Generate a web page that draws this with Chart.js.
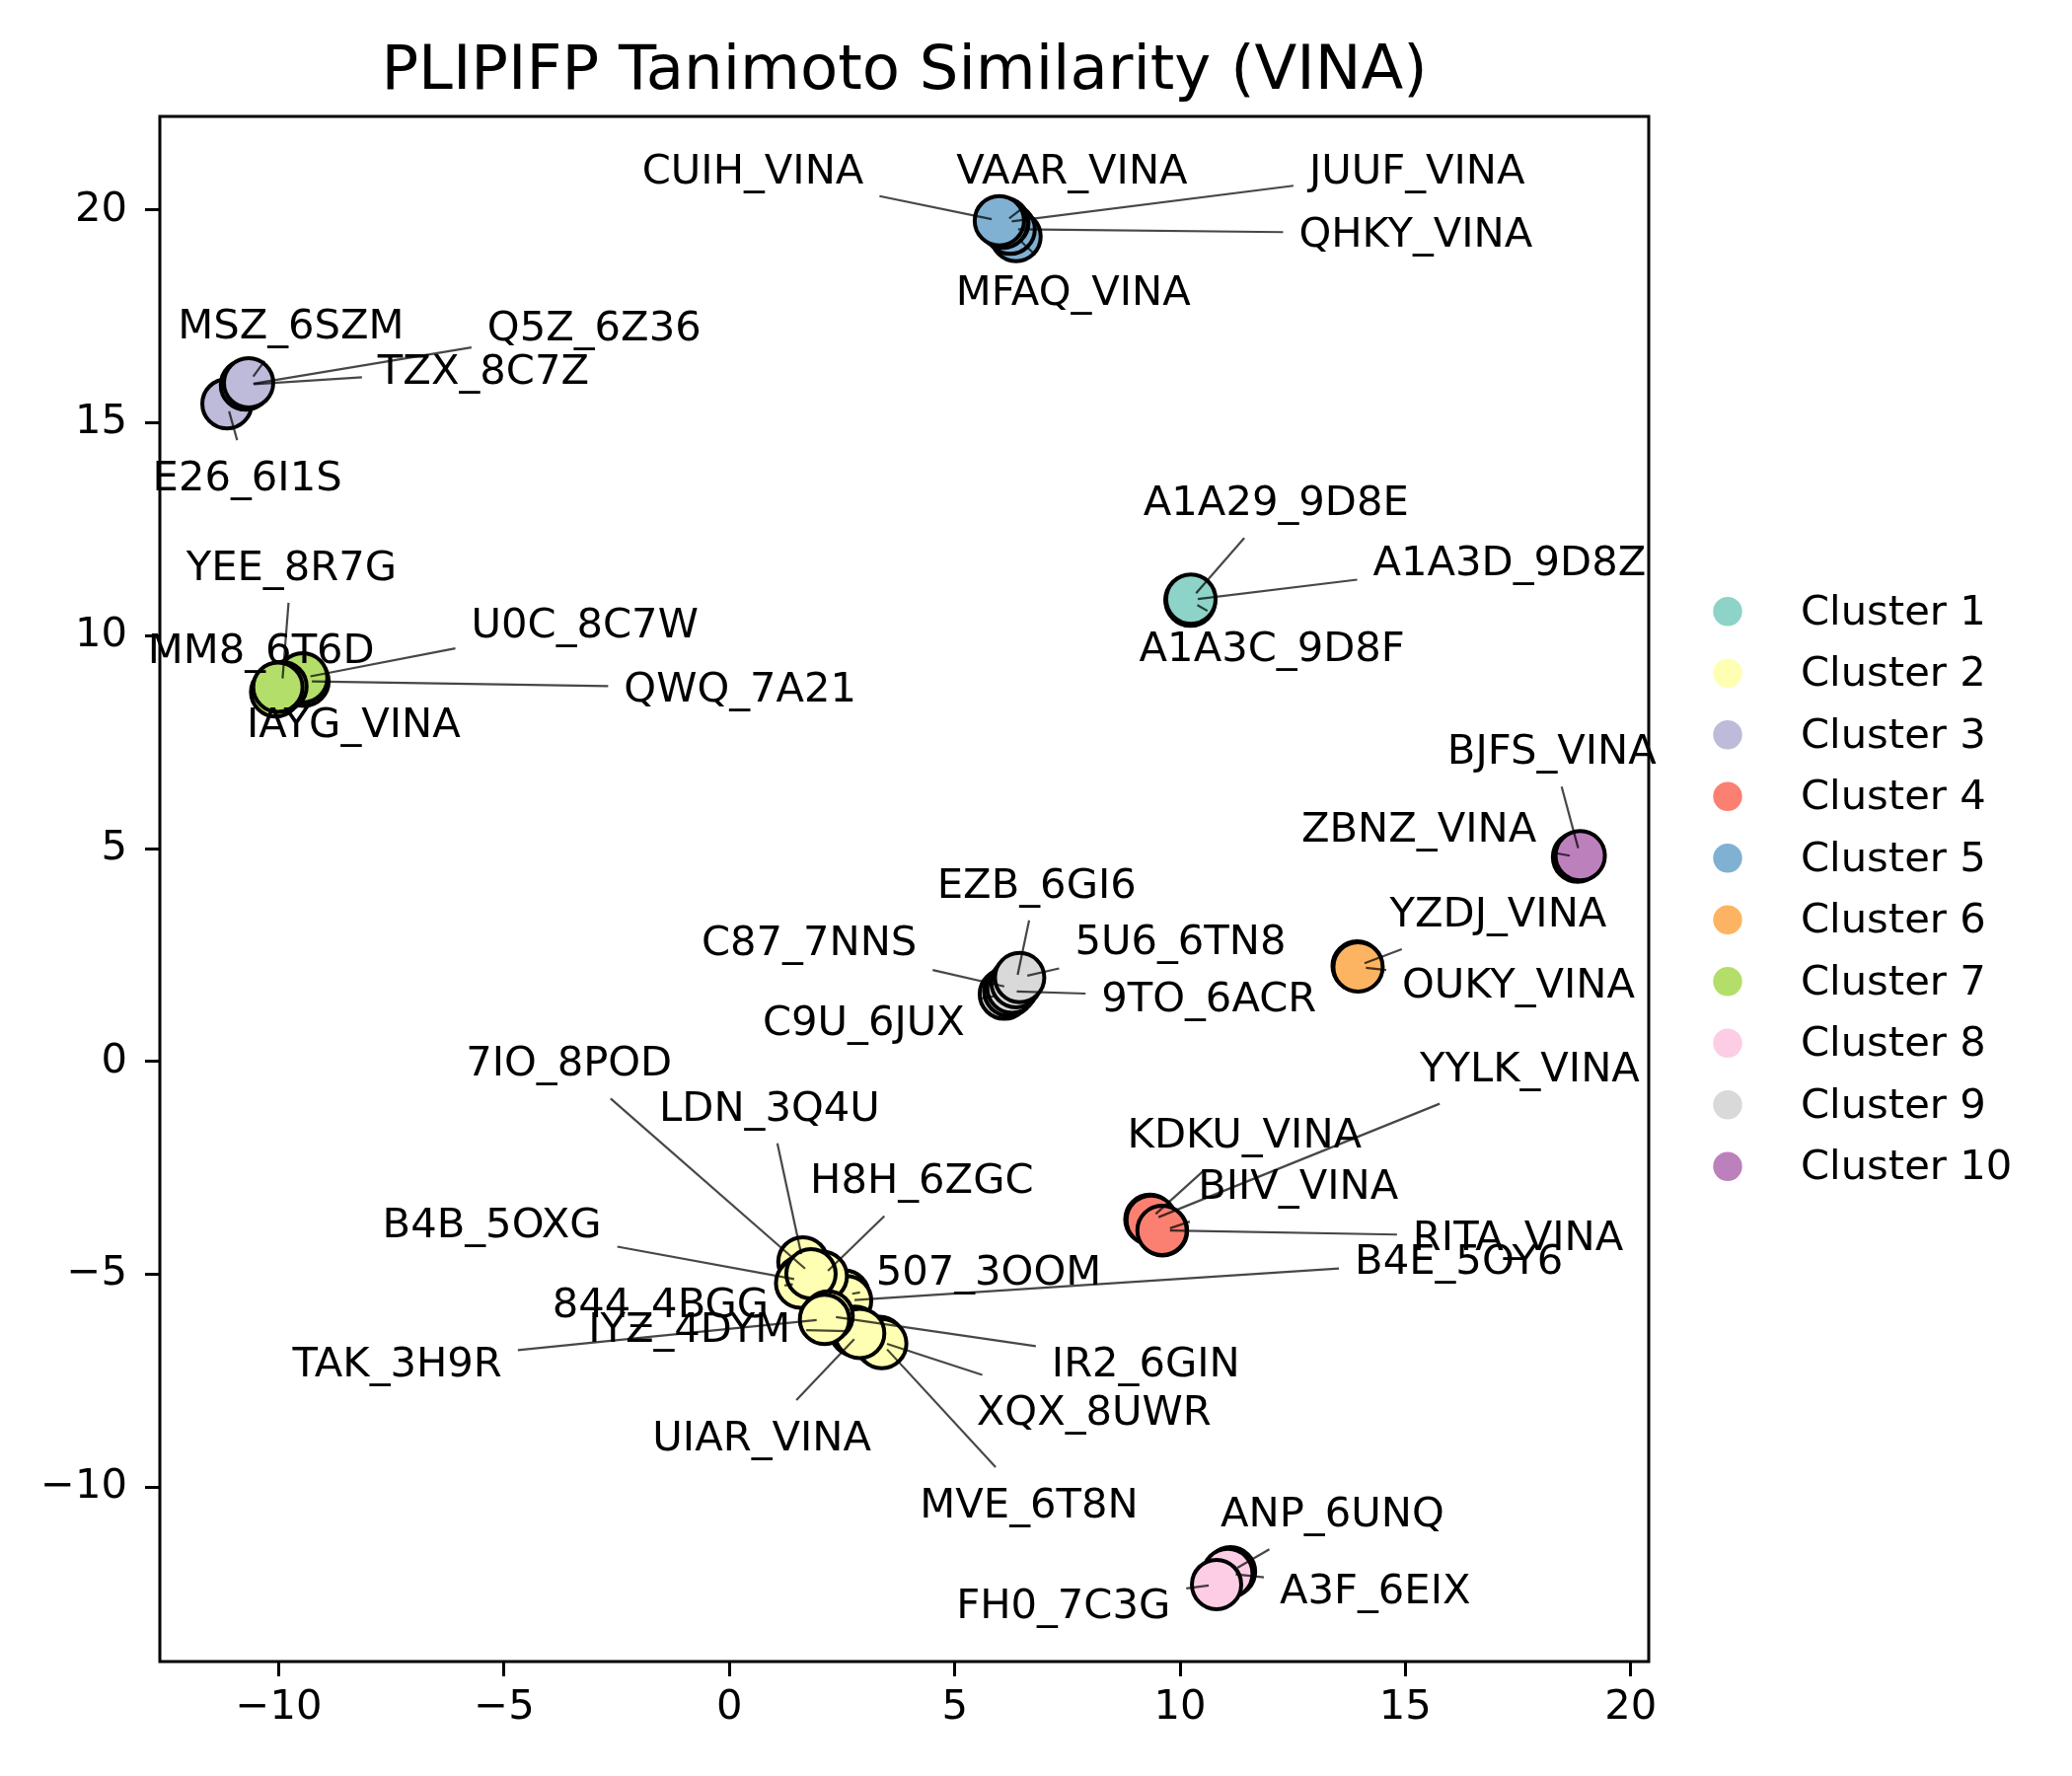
<!DOCTYPE html>
<html>
<head>
<meta charset="utf-8">
<title>PLIPIFP Tanimoto Similarity (VINA)</title>
<script src="https://cdn.jsdelivr.net/npm/chart.js@4.4.1/dist/chart.umd.min.js"></script>
<style>
    html, body { margin: 0; padding: 0; background: #ffffff; }
    #wrap { width: 2100px; height: 1800px; }
</style>
</head>
<body>
<div id="wrap"><canvas id="simChart" width="2100" height="1800"></canvas></div>
<script>
/* ===================================
   UMAP of PLIPIFP Tanimoto similarity
   =================================== */

const clusterLabels = ['Cluster 1', 'Cluster 2', 'Cluster 3', 'Cluster 4', 'Cluster 5',
                       'Cluster 6', 'Cluster 7', 'Cluster 8', 'Cluster 9', 'Cluster 10'];
const clusterColors = ['#8dd3c7', '#ffffb3', '#bebada', '#fb8072', '#80b1d3',
                       '#fdb462', '#b3de69', '#fccde5', '#d9d9d9', '#bc80bd'];

// one entry per ligand (back-to-front inside each cluster)
const ligandNames = [
    'A1A3C_9D8F', 'A1A3D_9D8Z', 'A1A29_9D8E',
    'XQX_8UWR', 'MVE_6T8N', '507_3OOM', 'B4E_5OY6', 'H8H_6ZGC', 'LDN_3Q4U', 'B4B_5OXG',
    '844_4BGG', '7IO_8POD', 'IYZ_4DYM', 'UIAR_VINA', 'IR2_6GIN', 'TAK_3H9R',
    'E26_6I1S', 'TZX_8C7Z', 'Q5Z_6Z36', 'MSZ_6SZM',
    'KDKU_VINA', 'YYLK_VINA', 'BIIV_VINA', 'RITA_VINA',
    'MFAQ_VINA', 'QHKY_VINA', 'JUUF_VINA', 'VAAR_VINA', 'CUIH_VINA',
    'YZDJ_VINA', 'OUKY_VINA',
    'QWQ_7A21', 'U0C_8C7W', 'MM8_6T6D', 'YEE_8R7G', 'IAYG_VINA',
    'ANP_6UNQ', 'A3F_6EIX', 'FH0_7C3G',
    'C9U_6JUX', '9TO_6ACR', 'C87_7NNS', 'EZB_6GI6', '5U6_6TN8',
    'ZBNZ_VINA', 'BJFS_VINA'
];
const ligandCluster = [
    1, 1, 1,
    2, 2, 2, 2, 2, 2, 2, 2, 2, 2, 2, 2, 2,
    3, 3, 3, 3,
    4, 4, 4, 4,
    5, 5, 5, 5, 5,
    6, 6,
    7, 7, 7, 7, 7,
    8, 8, 8,
    9, 9, 9, 9, 9,
    10, 10
];
const ligandX = [
    10.23, 10.22, 10.24,
    3.33, 3.38, 2.55, 2.60, 2.06, 1.63, 1.61, 1.58, 1.81, 2.79, 2.89, 2.19, 2.11,
    -11.15, -10.73, -10.74, -10.67,
    9.33, 9.36, 9.61, 9.60,
    6.36, 6.23, 6.09, 6.07, 5.99,
    13.93, 13.95,
    -9.44, -9.47, -10.07, -9.93, -10.02,
    11.12, 11.06, 10.81,
    6.10, 6.20, 6.27, 6.36, 6.44,
    18.82, 18.88
];
const ligandY = [
    10.81, 10.84, 10.86,
    -6.58, -6.63, -5.49, -5.62, -5.05, -4.71, -5.15, -5.21, -4.99, -6.34, -6.39, -5.98, -6.06,
    15.45, 15.90, 15.89, 15.94,
    -3.71, -3.73, -3.98, -3.97,
    19.38, 19.55, 19.71, 19.69, 19.75,
    2.24, 2.22,
    8.93, 9.01, 8.68, 8.81, 8.79,
    -11.99, -12.03, -12.29,
    1.58, 1.65, 1.72, 1.85, 1.97,
    4.80, 4.83
];
// where each name label ended up (data units)
const labelX = [
    12.04, 17.31, 12.13,
    8.09, 6.65, 5.75, 16.19, 4.27, 0.89, -5.27, -1.53, -3.56, -0.89, 0.72, 9.24, -7.37,
    -10.70, -5.46, -3.00, -9.73,
    11.43, 17.76, 12.62, 17.50,
    7.63, 15.23, 15.26, 7.60, 0.52,
    17.06, 17.51,
    0.24, -3.21, -10.39, -9.72, -8.34,
    13.38, 14.33, 7.41,
    2.98, 10.64, 1.77, 6.82, 10.01,
    15.30, 18.25
];
const labelY = [
    9.73, 11.75, 13.15,
    -8.22, -10.39, -4.93, -4.68, -2.78, -1.07, -3.81, -5.70, -0.02, -6.26, -8.81, -7.07, -7.07,
    13.74, 16.25, 17.25, 17.31,
    -1.70, -0.14, -2.91, -4.12,
    18.09, 19.45, 20.94, 20.94, 20.94,
    3.49, 1.81,
    8.77, 10.29, 9.67, 11.63, 7.93,
    -10.61, -12.41, -12.75,
    0.94, 1.50, 2.81, 4.17, 2.84,
    5.48, 7.31
];

const xTickValues = [-10, -5, 0, 5, 10, 15, 20];
const yTickValues = [-10, -5, 0, 5, 10, 15, 20];

const FONT = 'DejaVu Sans';
const LABEL_SIZE = 41.7;

function minusSign(v) {
    return String(v).replace('-', '\u2212');
}

// build one scatter dataset per cluster
function buildDatasets() {
    return clusterLabels.map(function(label, c) {
        const pts = [];
        ligandNames.forEach(function(name, i) {
            if (ligandCluster[i] === c + 1) {
                pts.push({ x: ligandX[i], y: ligandY[i], name: name, lx: labelX[i], ly: labelY[i] });
            }
        });
        return {
            label: label,
            data: pts,
            backgroundColor: clusterColors[c],
            borderColor: '#000000',
            pointRadius: 25,
            pointHoverRadius: 25,
            pointBorderWidth: 4
        };
    });
}

// box round the plot area
const framePlugin = {
    id: 'frame',
    afterDatasetsDraw(chart) {
        const { ctx, chartArea: a } = chart;
        ctx.save();
        ctx.lineWidth = 3;
        ctx.strokeStyle = '#000';
        ctx.strokeRect(a.left, a.top, a.right - a.left, a.bottom - a.top);
        ctx.restore();
    }
};

// name labels with connector lines (like adjustText)
const nameLabelPlugin = {
    id: 'nameLabels',
    afterDatasetsDraw(chart) {
        const ctx = chart.ctx;
        const xs = chart.scales.x, ys = chart.scales.y;
        ctx.save();
        ctx.font = LABEL_SIZE + 'px "' + FONT + '"';
        ctx.textAlign = 'center';
        ctx.textBaseline = 'middle';
        chart.data.datasets.forEach(function(ds, di) {
            const meta = chart.getDatasetMeta(di);
            ds.data.forEach(function(p, i) {
                const el = meta.data[i];
                const px = el.x, py = el.y;
                const cx = xs.getPixelForValue(p.lx), cy = ys.getPixelForValue(p.ly);
                const hw = ctx.measureText(p.name).width / 2 + 16;
                const hh = LABEL_SIZE / 2 + 16;
                const dx = px - cx, dy = py - cy;
                if (Math.abs(dx) > hw || Math.abs(dy) > hh) {
                    const t = Math.min(dx !== 0 ? hw / Math.abs(dx) : Infinity,
                                       dy !== 0 ? hh / Math.abs(dy) : Infinity);
                    const sx = cx + dx * t, sy = cy + dy * t;
                    const len = Math.hypot(px - sx, py - sy);
                    if (len > 8) {
                        const ex = px - (px - sx) / len * 8, ey = py - (py - sy) / len * 8;
                        ctx.beginPath();
                        ctx.moveTo(sx, sy);
                        ctx.lineTo(ex, ey);
                        ctx.lineWidth = 2.2;
                        ctx.strokeStyle = 'rgba(0,0,0,0.72)';
                        ctx.stroke();
                    }
                }
                ctx.fillStyle = '#000';
                ctx.fillText(p.name, cx, cy + 3);
            });
        });
        ctx.restore();
    }
};

// legend outside the axes, right side
const sideLegendPlugin = {
    id: 'sideLegend',
    afterDraw(chart) {
        const { ctx, chartArea: a } = chart;
        const n = chart.data.datasets.length;
        const midY = (a.top + a.bottom) / 2;
        ctx.save();
        ctx.font = LABEL_SIZE + 'px "' + FONT + '"';
        ctx.textAlign = 'left';
        ctx.textBaseline = 'middle';
        chart.data.datasets.forEach(function(ds, i) {
            const y = midY + (i - (n - 1) / 2) * 62.5;
            ctx.beginPath();
            ctx.arc(a.right + 80, y, 14.7, 0, Math.PI * 2);
            ctx.fillStyle = ds.backgroundColor;
            ctx.fill();
            ctx.fillStyle = '#000';
            ctx.fillText(ds.label, a.right + 154, y + 2);
        });
        ctx.restore();
    }
};

document.addEventListener('DOMContentLoaded', function() {
    const ctx = document.getElementById('simChart');

    new Chart(ctx, {
        type: 'scatter',
        data: { datasets: buildDatasets() },
        plugins: [framePlugin, nameLabelPlugin, sideLegendPlugin],
        options: {
            responsive: false,
            devicePixelRatio: 1,
            animation: false,
            events: [],
            layout: { padding: { left: 0, right: 429, top: 36, bottom: 0 } },
            plugins: {
                legend: { display: false },
                tooltip: { enabled: false },
                title: {
                    display: true,
                    text: 'PLIPIFP Tanimoto Similarity (VINA)',
                    color: '#000',
                    fullSize: false,
                    font: { family: FONT, size: 62.5, weight: 'normal' },
                    padding: { top: 0, bottom: 7 }
                }
            },
            scales: {
                x: {
                    type: 'linear',
                    min: -12.64,
                    max: 20.4,
                    afterBuildTicks: function(scale) {
                        scale.ticks = xTickValues.map(v => ({ value: v }));
                    },
                    afterFit: function(scale) { scale.height = 116; },
                    border: { display: false },
                    grid: { drawOnChartArea: false, drawTicks: true, tickLength: 15, tickWidth: 3, tickColor: '#000' },
                    ticks: {
                        color: '#000',
                        autoSkip: false,
                        maxRotation: 0,
                        padding: 7,
                        font: { family: FONT, size: LABEL_SIZE },
                        callback: minusSign
                    }
                },
                y: {
                    type: 'linear',
                    min: -14.1,
                    max: 22.2,
                    afterBuildTicks: function(scale) {
                        scale.ticks = yTickValues.map(v => ({ value: v }));
                    },
                    afterFit: function(scale) { scale.width = 162; },
                    border: { display: false },
                    grid: { drawOnChartArea: false, drawTicks: true, tickLength: 15, tickWidth: 3, tickColor: '#000' },
                    ticks: {
                        color: '#000',
                        autoSkip: false,
                        padding: 18,
                        font: { family: FONT, size: LABEL_SIZE },
                        callback: minusSign
                    }
                }
            }
        }
    });
});
</script>
</body>
</html>
